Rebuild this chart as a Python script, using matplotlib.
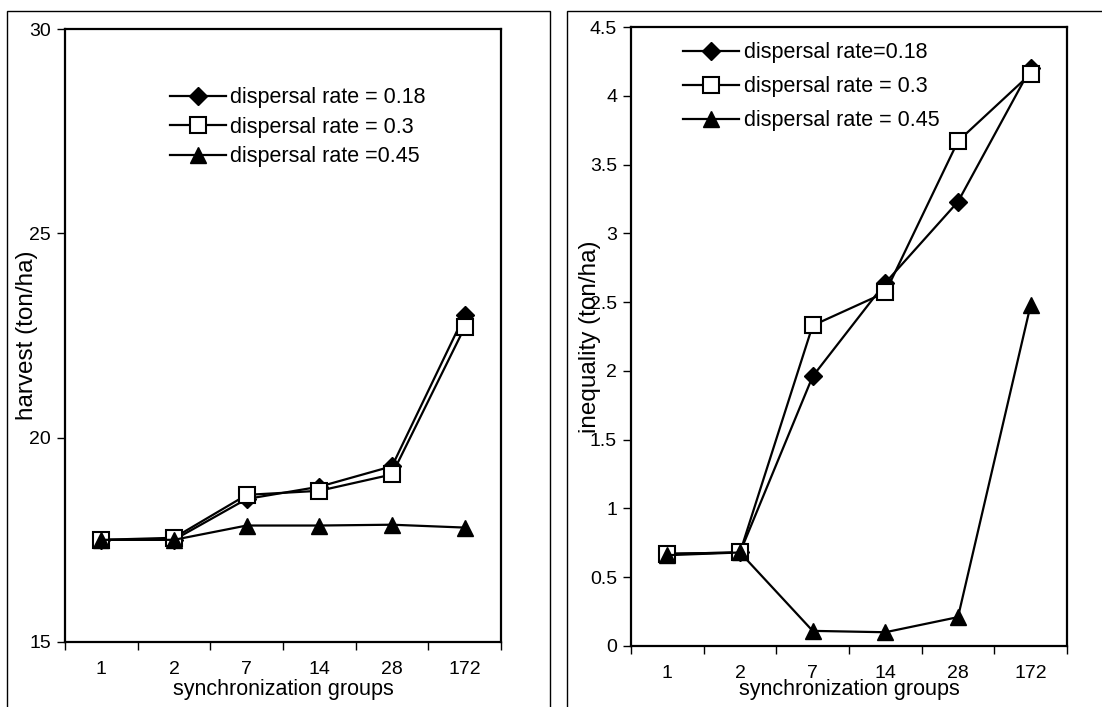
import matplotlib
matplotlib.use("Agg")
import matplotlib.pyplot as plt
from matplotlib.patches import Rectangle

plt.rcParams['font.family'] = ['Liberation Sans', 'DejaVu Sans']

groups = ['1', '2', '7', '14', '28', '172']

harvest_018 = [17.5, 17.5, 18.5, 18.8, 19.3, 23.0]
harvest_030 = [17.5, 17.55, 18.6, 18.7, 19.1, 22.7]
harvest_045 = [17.5, 17.5, 17.85, 17.85, 17.87, 17.8]

ineq_018 = [0.67, 0.68, 1.96, 2.64, 3.23, 4.2]
ineq_030 = [0.67, 0.68, 2.33, 2.57, 3.67, 4.16]
ineq_045 = [0.66, 0.68, 0.11, 0.10, 0.21, 2.48]

left_labels = ['dispersal rate = 0.18', 'dispersal rate = 0.3', 'dispersal rate =0.45']
right_labels = ['dispersal rate=0.18', 'dispersal rate = 0.3', 'dispersal rate = 0.45']

W, H = 1102, 707
fig = plt.figure(figsize=(W / 100, H / 100), dpi=100)


def px_axes(x0, y0, x1, y1):
    # pixel box (left, top, right, bottom) -> figure fraction
    return fig.add_axes([x0 / W, 1 - y1 / H, (x1 - x0) / W, (y1 - y0) / H])


# outer chart boxes
fig.patches.append(Rectangle((7 / W, -0.02), (550 - 7) / W, 1.02 - 11 / H,
                             transform=fig.transFigure, fill=False, lw=1, ec='black'))
fig.patches.append(Rectangle((567 / W, -0.02), 1.0, 1.02 - 11 / H,
                             transform=fig.transFigure, fill=False, lw=1, ec='black'))

ax1 = px_axes(65, 29, 501, 642)
ax2 = px_axes(631, 27, 1067, 646)

xs = [i + 0.5 for i in range(len(groups))]


def style(ax, ylim, yticks, ylabel, ylab_x, xlab_y):
    ax.set_xlim(0, len(groups))
    ax.set_ylim(*ylim)
    ax.set_yticks(yticks)
    ax.set_yticklabels([('%g' % v) for v in yticks])
    ax.set_xticks(range(len(groups) + 1))
    ax.set_xticklabels([])
    ax.set_xticks(xs, minor=True)
    ax.set_xticklabels(groups, minor=True)
    ax.tick_params(axis='x', which='major', direction='out', length=6, width=1)
    ax.tick_params(axis='x', which='minor', length=0, pad=14, labelsize=14)
    ax.tick_params(axis='y', direction='out', length=6, width=1, pad=4, labelsize=14)
    for s in ax.spines.values():
        s.set_linewidth(1.6)
    ax.set_ylabel(ylabel, fontsize=17.5)
    ax.yaxis.set_label_coords(ylab_x, 0.5)
    ax.yaxis.label.set_va('center')
    ax.set_xlabel('synchronization groups', fontsize=15.5)
    ax.xaxis.set_label_coords(0.5, xlab_y)
    ax.xaxis.label.set_va('center')


def draw(ax, a, b, c, labels):
    ax.plot(xs, a, color='black', lw=1.6, marker='D', ms=9, mfc='black', mec='black', label=labels[0])
    ax.plot(xs, b, color='black', lw=1.6, marker='s', ms=11, mfc='white', mec='black', mew=1.5, label=labels[1])
    ax.plot(xs, c, color='black', lw=1.6, marker='^', ms=12, mfc='black', mec='black', label=labels[2])


draw(ax1, harvest_018, harvest_030, harvest_045, left_labels)
style(ax1, (15, 30), [15, 20, 25, 30], 'harvest (ton/ha)', -0.087, -0.078)
ax1.legend(loc='upper left', bbox_to_anchor=(0.24, 0.905), frameon=False, fontsize=15.5,
           handlelength=2.6, handletextpad=0.2, labelspacing=0.4, borderpad=0, borderaxespad=0)

draw(ax2, ineq_018, ineq_030, ineq_045, right_labels)
style(ax2, (0, 4.5), [0, 0.5, 1, 1.5, 2, 2.5, 3, 3.5, 4, 4.5], 'inequality (ton/ha)', -0.094, -0.071)
ax2.legend(loc='upper left', bbox_to_anchor=(0.12, 0.975), frameon=False, fontsize=15.5,
           handlelength=2.6, handletextpad=0.2, labelspacing=0.6, borderpad=0, borderaxespad=0)

fig.savefig('out.png', dpi=100)
